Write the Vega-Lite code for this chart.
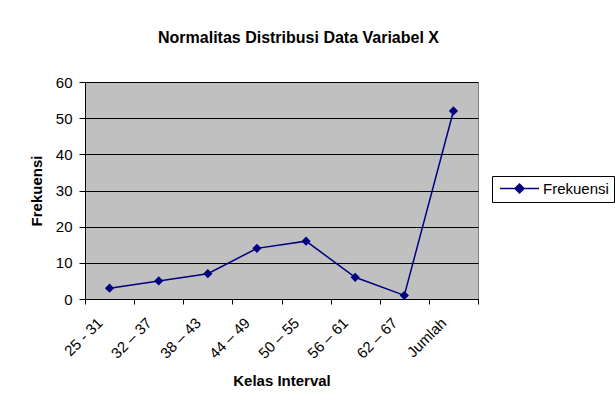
{
  "$schema": "https://vega.github.io/schema/vega-lite/v6.json",
  "width": 393,
  "height": 217,
  "autosize": {"type": "none"},
  "padding": {"left": 85, "top": 82, "right": 137, "bottom": 114},
  "background": "white",
  "config": {
    "font": "Liberation Sans",
    "view": {"fill": "#C0C0C0", "stroke": "#808080", "strokeWidth": 1}
  },
  "title": {
    "text": "Normalitas Distribusi Data Variabel X",
    "font": "Liberation Sans",
    "fontSize": 16,
    "fontWeight": "bold",
    "color": "black",
    "anchor": "middle",
    "dx": 17,
    "offset": 29
  },
  "data": {
    "values": [
      {"kelas": "25 - 31", "frekuensi": 3, "series": "Frekuensi"},
      {"kelas": "32 – 37", "frekuensi": 5, "series": "Frekuensi"},
      {"kelas": "38 – 43", "frekuensi": 7, "series": "Frekuensi"},
      {"kelas": "44 – 49", "frekuensi": 14, "series": "Frekuensi"},
      {"kelas": "50 – 55", "frekuensi": 16, "series": "Frekuensi"},
      {"kelas": "56 – 61", "frekuensi": 6, "series": "Frekuensi"},
      {"kelas": "62 – 67", "frekuensi": 1, "series": "Frekuensi"},
      {"kelas": "Jumlah", "frekuensi": 52, "series": "Frekuensi"}
    ]
  },
  "encoding": {
    "x": {
      "field": "kelas",
      "type": "nominal",
      "sort": null,
      "scale": {"type": "band", "paddingInner": 0, "paddingOuter": 0},
      "axis": {
        "title": "Kelas Interval",
        "titleFont": "Liberation Sans",
        "titleFontSize": 15,
        "titleFontWeight": "bold",
        "titleColor": "black",
        "titlePadding": 12,
        "labelAngle": -45,
        "labelAlign": "right",
        "labelBaseline": "middle",
        "labelFontSize": 15,
        "labelColor": "black",
        "labelOffset": -10,
        "labelPadding": 16,
        "tickBand": "extent",
        "tickColor": "black",
        "tickSize": 5,
        "domainColor": "black",
        "grid": false
      }
    },
    "y": {
      "field": "frekuensi",
      "type": "quantitative",
      "scale": {"domain": [0, 60], "nice": false},
      "axis": {
        "title": "Frekuensi",
        "titleFont": "Liberation Sans",
        "titleFontSize": 15,
        "titleFontWeight": "bold",
        "titleColor": "black",
        "titlePadding": 11,
        "values": [0, 10, 20, 30, 40, 50, 60],
        "labelFontSize": 15,
        "labelColor": "black",
        "labelPadding": 7,
        "tickColor": "black",
        "tickSize": 6,
        "domainColor": "black",
        "grid": true,
        "gridColor": "black",
        "gridWidth": 1,
        "gridOpacity": 1
      }
    },
    "color": {
      "field": "series",
      "type": "nominal",
      "scale": {"range": ["#000080"]},
      "legend": {
        "title": null,
        "orient": "none",
        "legendX": 407,
        "legendY": 94,
        "strokeColor": "black",
        "fillColor": "white",
        "padding": 5,
        "labelFontSize": 15,
        "labelColor": "black",
        "labelFont": "Liberation Sans",
        "labelOffset": 16,
        "symbolType": "M-3.9,0H3.9M-0.9,0L0,-0.9L0.9,0L0,0.9Z",
        "symbolSize": 100,
        "symbolOffset": 15,
        "symbolStrokeWidth": 1.5,
        "encode": {
          "symbols": {"update": {"fill": {"value": "#000080"}, "stroke": {"value": "#000080"}, "opacity": {"value": 1}}}
        }
      }
    }
  },
  "layer": [
    {"mark": {"type": "line", "strokeWidth": 1.5}},
    {"mark": {"type": "point", "shape": "diamond", "filled": true, "size": 85, "opacity": 1}}
  ]
}
